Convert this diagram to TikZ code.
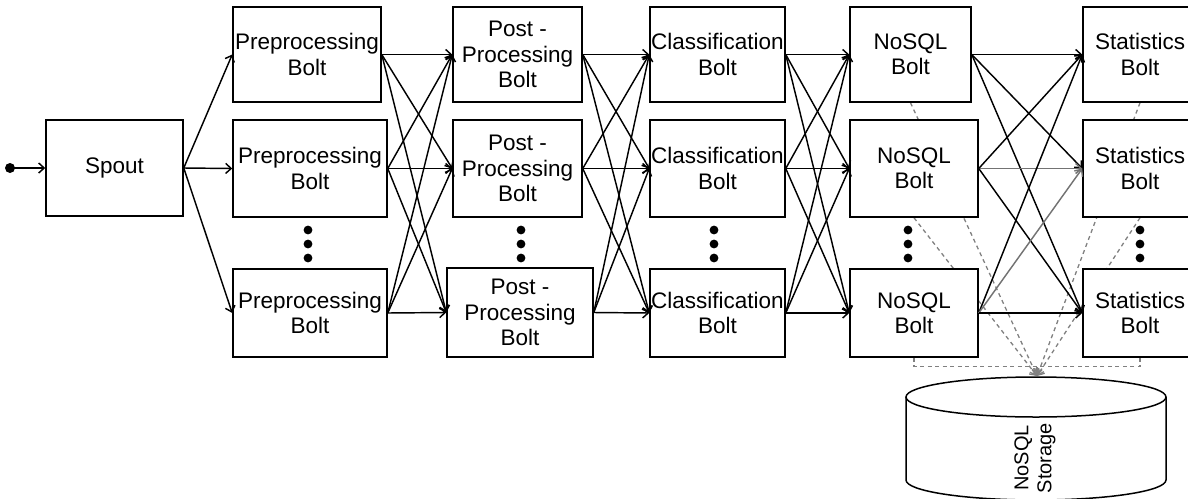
\documentclass[tikz,border=0pt]{standalone}
\usepackage{fontspec}
\setmainfont{Liberation Sans}
\usetikzlibrary{arrows.meta}
\pgfdeclarelayer{bg}
\pgfsetlayers{bg,main}
\begin{document}
\begin{tikzpicture}[x=1pt,y=-1pt,
  bolt/.style={draw, line width=1.5pt, fill=white, align=center, inner sep=0pt,
    font=\fontsize{22.5pt}{25.5pt}\selectfont},
  arr/.style={line width=1.45pt, -{Straight Barb[length=5.5pt,width=10pt]}},
  grayarr/.style={arr, draw=black!55},
  store/.style={draw=black!50, line width=1.3pt, dash pattern=on 4pt off 3.5pt,
    -{Straight Barb[length=5.5pt,width=10pt]}},
  dotmark/.style={circle, fill=black, inner sep=0pt, minimum size=10pt}]
\useasboundingbox (0,0) rectangle (1188,498);

% entry point and spout
\node[dotmark] (entry) at (10,168) {};
\node[bolt, minimum width=137pt, minimum height=96pt] (spout) at (114.5,168) {Spout};

% preprocessing bolts
\node[bolt, minimum width=148pt, minimum height=95pt] (pa) at (307,54.5)  {Preprocessing\\Bolt};
\node[bolt, minimum width=154pt, minimum height=97pt] (pb) at (310,168.5) {Preprocessing\\Bolt};
\node[bolt, minimum width=154pt, minimum height=88pt] (pc) at (310,313)   {Preprocessing\\Bolt};

% post-processing bolts
\node[bolt, minimum width=129pt, minimum height=95pt] (qa) at (517.5,54.5)  {Post -\\Processing\\Bolt};
\node[bolt, minimum width=129pt, minimum height=97pt] (qb) at (517.5,168.5) {Post -\\Processing\\Bolt};
\node[bolt, minimum width=146pt, minimum height=89pt] (qc) at (520,312.5)   {Post -\\Processing\\Bolt};

% classification bolts
\node[bolt, minimum width=135pt, minimum height=95pt] (ca) at (717.5,54.5)  {Classification\\Bolt};
\node[bolt, minimum width=135pt, minimum height=97pt] (cb) at (717.5,168.5) {Classification\\Bolt};
\node[bolt, minimum width=135pt, minimum height=88pt] (cc) at (717.5,313)   {Classification\\Bolt};

% NoSQL bolts
\node[bolt, minimum width=121pt, minimum height=95pt] (na) at (910.5,54.5) {NoSQL\\Bolt};
\node[bolt, minimum width=128pt, minimum height=97pt] (nb) at (914,168.5)  {NoSQL\\Bolt};
\node[bolt, minimum width=128pt, minimum height=88pt] (nc) at (914,313)    {NoSQL\\Bolt};

% statistics bolts
\node[bolt, minimum width=114pt, minimum height=95pt] (sa) at (1140,54.5)  {Statistics\\Bolt};
\node[bolt, minimum width=114pt, minimum height=97pt] (sb) at (1140,168.5) {Statistics\\Bolt};
\node[bolt, minimum width=114pt, minimum height=88pt] (sc) at (1140,313)   {Statistics\\Bolt};

% ellipsis dots between the second and last bolt of each stage
\foreach \x in {308,521,714,908,1140}
  \foreach \y in {230,244,258}
    \fill (\x,\y) circle (4.4);

% storage cylinder
\coordinate (db) at (1037,376);
\filldraw[fill=white, line width=1.5pt] (906,397) -- (906,480)
  .. controls (906,491.05) and (964.2,500) .. (1036,500)
  .. controls (1107.8,500) and (1166,491.05) .. (1166,480) -- (1166,397);
\draw[fill=white, line width=1.5pt] (1036,397) ellipse [x radius=130, y radius=20];
\node[rotate=90, align=center, font=\fontsize{20pt}{23pt}\selectfont] (dblabel)
  at (1035,458) {NoSQL\\Storage};

% writes to the storage, running behind the bolts
\begin{pgfonlayer}{bg}
  \draw[store] (na.south) -- (db);
  \draw[store] (nb.south) -- (db);
  \draw[store] (nc.south) -- ++(0,9) -| (db);
  \draw[store] (sa.south) -- (db);
  \draw[store] (sb.south) -- (db);
  \draw[store] (sc.south) -- ++(0,9) -| (db);
\end{pgfonlayer}

% stream connections
\draw[arr] (entry.center) -- (spout.west);
\foreach \t in {pa,pb,pc} \draw[arr] (spout.east) -- (\t.west);
\foreach \s in {pa,pb,pc} \foreach \t in {qa,qb,qc} \draw[arr] (\s.east) -- (\t.west);
\foreach \s in {qa,qb,qc} \foreach \t in {ca,cb,cc} \draw[arr] (\s.east) -- (\t.west);
\foreach \s in {ca,cb,cc} \foreach \t in {na,nb,nc} \draw[arr] (\s.east) -- (\t.west);
\foreach \t in {sa,sb,sc} \draw[arr] (na.east) -- (\t.west);
\draw[arr] (nb.east) -- (sa.west);
\draw[grayarr] (nb.east) -- (sb.west);
\draw[arr] (nb.east) -- (sc.west);
\draw[arr] (nc.east) -- (sa.west);
\draw[grayarr] (nc.east) -- (sb.west);
\draw[arr] (nc.east) -- (sc.west);
\end{tikzpicture}
\end{document}
